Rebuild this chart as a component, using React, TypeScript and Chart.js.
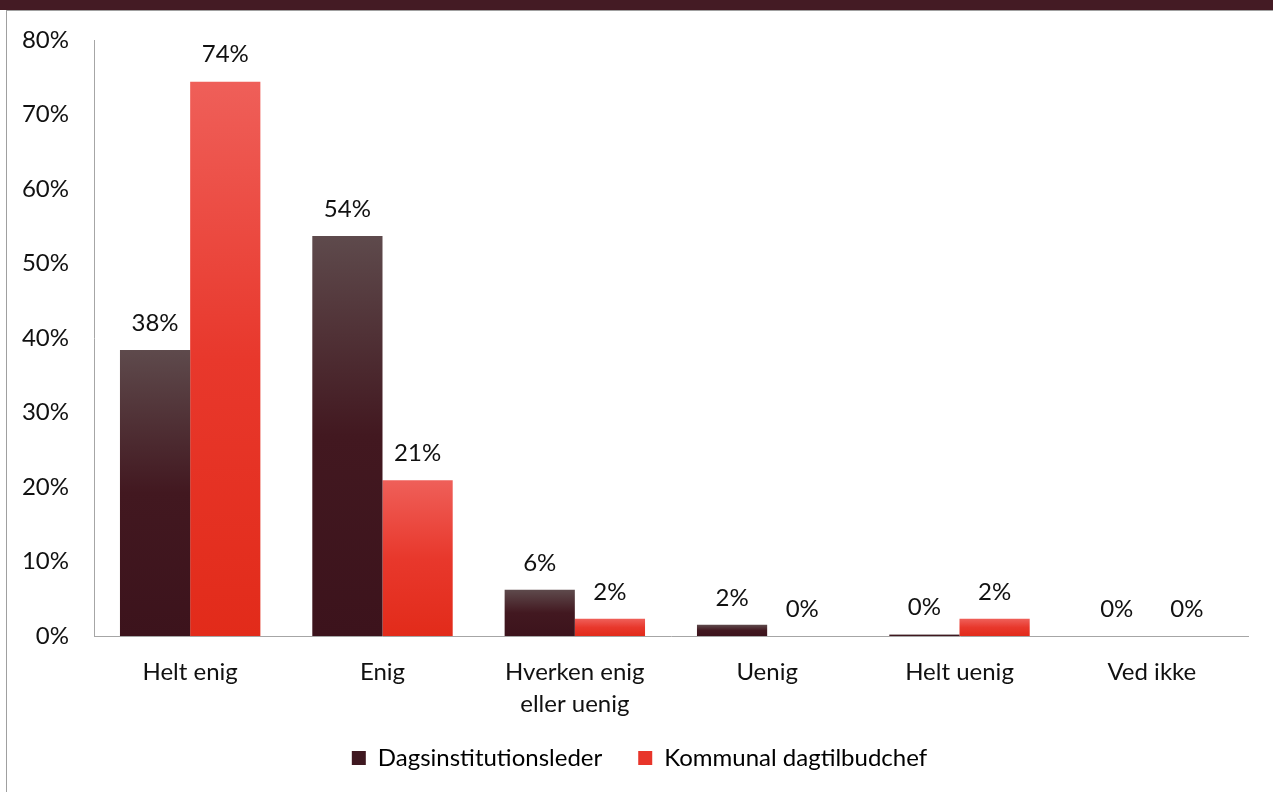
import React, { useEffect, useRef } from "react";
import { Chart, registerables } from "chart.js";

Chart.register(...registerables);

const categories: (string | string[])[] = [
  "Helt enig",
  "Enig",
  ["Hverken enig", "eller uenig"],
  "Uenig",
  "Helt uenig",
  "Ved ikke",
];
const seriesNames = ["Dagsinstitutionsleder", "Kommunal dagtilbudchef"];
const dagsinstitutionsleder = [38.4, 53.7, 6.2, 1.5, 0.2, 0];
const kommunalDagtilbudchef = [74.4, 20.9, 2.3, 0, 2.3, 0];

const FONT = "Lato, 'Noto Sans', sans-serif";
const FONT_SIZE = 24;

const palettes = [
  { top: "#5e4a4c", mid: "#421820", bottom: "#3c131c", solid: "#3f1820" },
  { top: "#ef5f59", mid: "#e8382c", bottom: "#e22b1a", solid: "#e8352a" },
];

function barGradient(ctx: any, dsIndex: number) {
  const chart = ctx.chart;
  const pal = palettes[dsIndex];
  if (ctx.type !== "data" || !chart.scales || !chart.scales.y) return pal.solid;
  const y = chart.scales.y;
  const top = y.getPixelForValue(ctx.raw);
  const base = y.getPixelForValue(0);
  if (!isFinite(top) || !isFinite(base) || base - top < 1) return pal.solid;
  const g = chart.ctx.createLinearGradient(0, top, 0, base);
  g.addColorStop(0, pal.top);
  g.addColorStop(0.5, pal.mid);
  g.addColorStop(1, pal.bottom);
  return g;
}

const valueLabels = {
  id: "valueLabels",
  afterDatasetsDraw(chart: any) {
    const ctx = chart.ctx;
    ctx.save();
    ctx.font = `${FONT_SIZE}px ${FONT}`;
    ctx.fillStyle = "#111";
    ctx.textAlign = "center";
    ctx.textBaseline = "middle";
    chart.data.datasets.forEach((ds: any, di: number) => {
      const meta = chart.getDatasetMeta(di);
      meta.data.forEach((el: any, i: number) => {
        const v = ds.data[i];
        ctx.fillText(`${Math.round(v)}%`, el.x, el.y - 27);
      });
    });
    ctx.restore();
  },
};

// nudges the legend box: wider item gap but same vertical spot as the original
const legendShift = {
  id: "legendShift",
  afterLayout(chart: any) {
    const lg = chart.legend;
    if (!lg) return;
    lg.left += 12;
    lg.right += 12;
    lg.top -= 28;
    lg.height = 70;
    lg.bottom = lg.top + lg.height;
  },
};

export default function App() {
  const ref = useRef<HTMLCanvasElement>(null);
  useEffect(() => {
    document.body.style.margin = "0";
    const chart = new Chart(ref.current!, {
      type: "bar",
      data: {
        labels: categories as any,
        datasets: [
          {
            label: seriesNames[0],
            data: dagsinstitutionsleder,
            backgroundColor: (c: any) => barGradient(c, 0),
            barPercentage: 1,
            categoryPercentage: 0.73,
          },
          {
            label: seriesNames[1],
            data: kommunalDagtilbudchef,
            backgroundColor: (c: any) => barGradient(c, 1),
            barPercentage: 1,
            categoryPercentage: 0.73,
          },
        ],
      },
      options: {
        animation: false,
        responsive: false,
        maintainAspectRatio: false,
        layout: { padding: { top: 29, right: 25, bottom: 14, left: 0 } },
        plugins: {
          tooltip: { enabled: false },
          legend: {
            position: "bottom",
            maxHeight: 40,
            labels: {
              font: { family: FONT, size: FONT_SIZE },
              color: "#111",
              boxWidth: 14,
              boxHeight: 14,
              padding: 36,
              generateLabels: (ch: any) =>
                ch.data.datasets.map((ds: any, i: number) => ({
                  text: ds.label,
                  fillStyle: palettes[i].solid,
                  strokeStyle: palettes[i].solid,
                  lineWidth: 0,
                  datasetIndex: i,
                  hidden: false,
                })),
            },
          },
        },
        scales: {
          x: {
            grid: { display: false, drawTicks: false },
            border: { display: true, color: "#a6a6a6", width: 1 },
            ticks: {
              font: { family: FONT, size: FONT_SIZE, lineHeight: 1.3 },
              color: "#111",
              padding: 21,
              maxRotation: 0,
              autoSkip: false,
            },
            afterFit: (s: any) => {
              s.height = 102;
              s.paddingLeft = 0;
              s.paddingRight = 0;
            },
          },
          y: {
            min: 0,
            max: 80,
            grid: { display: false, drawTicks: false },
            border: { display: true, color: "#a6a6a6", width: 1 },
            ticks: {
              stepSize: 10,
              font: { family: FONT, size: FONT_SIZE },
              color: "#111",
              padding: 25,
              callback: (v: any) => `${v}%`,
            },
            afterFit: (s: any) => {
              s.width = 87;
              s.paddingTop = 10;
              s.paddingBottom = 10;
            },
          },
        },
      },
      plugins: [valueLabels, legendShift],
    });
    return () => chart.destroy();
  }, []);

  return (
    <div style={{ position: "fixed", left: 0, top: 0, width: 1273, height: 792, background: "#fff" }}>
      <div style={{ position: "absolute", left: 0, top: 0, width: 1273, height: 10, background: "#441b24" }} />
      <div
        style={{
          position: "absolute",
          left: 6,
          top: 10,
          width: 1267,
          height: 782,
          borderLeft: "1px solid #a0a0a0",
          borderTop: "1px solid #a0a0a0",
          boxSizing: "border-box",
        }}
      />
      <canvas
        ref={ref}
        width={1266}
        height={781}
        style={{ position: "absolute", left: 7, top: 11, width: 1266, height: 781 }}
      />
    </div>
  );
}
